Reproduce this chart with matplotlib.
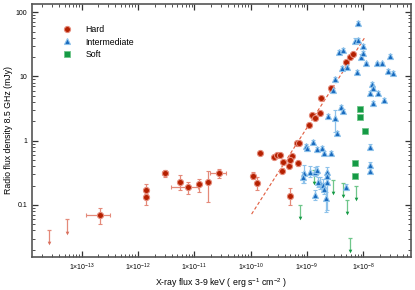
import numpy as np
import matplotlib
matplotlib.use('Agg')
import matplotlib.pyplot as plt
from matplotlib.lines import Line2D
from matplotlib.ticker import LogLocator, FixedLocator, NullFormatter

# Hard state detections
hard_x = [2.13e-13, 1.39e-12, 1.39e-12, 3.02e-12, 5.65e-12, 7.64e-12, 1.20e-11, 1.77e-11, 2.77e-11,
          1.08e-10, 1.28e-10, 1.46e-10, 2.59e-10, 2.93e-10, 3.31e-10, 3.78e-10, 4.83e-10, 5.33e-10,
          4.98e-10, 6.98e-10, 3.63e-10, 4.98e-10, 6.54e-10, 7.10e-10, 1.08e-9, 1.21e-9, 1.38e-9,
          1.69e-9, 1.76e-9, 2.62e-9, 4.90e-9, 5.77e-9, 6.52e-9]
hard_y = [0.070, 0.171, 0.132, 0.311, 0.23, 0.19, 0.21, 0.23, 0.311,
          0.283, 0.217, 0.64, 0.56, 0.60, 0.60, 0.47, 0.41, 0.58,
          0.50, 0.445, 0.338, 0.14, 0.93, 0.93, 1.74, 2.51, 2.23,
          2.73, 4.57, 6.53, 16.9, 19.8, 22.1]
hard_ylo = [0.051, 0.143, 0.10, 0.27, 0.171, 0.148, 0.159, 0.110, 0.26,
            0.25, 0.17, 0.59, 0.52, 0.56, 0.56, 0.44, 0.38, 0.54,
            0.46, 0.41, 0.31, 0.10, 0.87, 0.87, 1.62, 2.35, 2.08,
            2.55, 4.3, 6.1, 15.8, 18.5, 20.7]
hard_yhi = [0.089, 0.21, 0.15, 0.35, 0.29, 0.23, 0.256, 0.342, 0.367,
            0.32, 0.27, 0.69, 0.60, 0.64, 0.64, 0.50, 0.44, 0.62,
            0.54, 0.48, 0.37, 0.185, 0.99, 0.99, 1.86, 2.67, 2.38,
            2.91, 4.85, 6.95, 18.0, 21.1, 23.5]
hard_xlo = [1.2e-13, 1.28e-12, 1.28e-12, 2.7e-12, 5.2e-12, 3.8e-12, 1.1e-11, 1.77e-11, 1.89e-11,
            1.0e-10, 1.2e-10, 1.38e-10, 2.45e-10, 2.8e-10, 3.15e-10, 3.6e-10, 4.6e-10, 5.1e-10,
            4.75e-10, 6.7e-10, 3.45e-10, 4.98e-10, 6.2e-10, 6.8e-10, 1.03e-9, 1.16e-9, 1.32e-9,
            1.62e-9, 1.69e-9, 2.5e-9, 4.7e-9, 5.5e-9, 6.2e-9]
hard_xhi = [3.2e-13, 1.5e-12, 1.5e-12, 3.4e-12, 6.1e-12, 1.18e-11, 1.3e-11, 1.77e-11, 3.7e-11,
            1.16e-10, 1.36e-10, 1.54e-10, 2.73e-10, 3.06e-10, 3.47e-10, 3.96e-10, 5.06e-10, 5.56e-10,
            5.21e-10, 7.26e-10, 3.81e-10, 4.98e-10, 6.88e-10, 7.4e-10, 1.13e-9, 1.26e-9, 1.44e-9,
            1.76e-9, 1.83e-9, 2.74e-9, 5.1e-9, 6.05e-9, 6.85e-9]
hard_lim_x = [2.65e-14, 5.47e-14]
hard_lim_y = [0.041, 0.060]

# Intermediate state
int_x = [7.98e-9, 7.06e-9, 8.09e-9, 9.91e-9, 3.72e-9, 4.38e-9, 8.91e-9, 9.91e-9, 1.11e-8, 1.71e-8,
         2.10e-8, 2.95e-8, 4.16e-9, 5.04e-9, 7.76e-9, 2.75e-8, 3.38e-8, 3.13e-9, 2.92e-9, 1.40e-8,
         1.46e-8, 1.30e-8, 1.83e-8, 2.31e-8, 1.49e-8, 3.99e-9, 4.38e-9, 2.32e-9, 3.13e-9, 3.43e-9,
         1.29e-9, 9.55e-10, 1.01e-9, 1.82e-9, 1.30e-8, 2.69e-9, 1.48e-9, 2.0e-9, 1.30e-8, 1.30e-8,
         4.90e-9, 8.81e-10, 1.13e-9, 1.38e-9, 1.50e-9, 2.25e-9, 2.25e-9, 8.45e-10, 1.69e-9, 1.91e-9,
         2.25e-9, 2.0e-9, 2.16e-9, 1.38e-9, 1.56e-9]
int_y = [67.0, 35.9, 36.8, 29.7, 23.7, 25.7, 20.2, 22.9, 16.0, 16.0,
         16.0, 20.8, 13.4, 14.2, 11.8, 12.3, 11.2, 9.0, 6.1, 7.6,
         6.5, 5.6, 5.6, 4.3, 3.8, 3.31, 2.93, 2.45, 2.23, 1.33,
         0.965, 0.83, 0.77, 0.76, 0.81, 0.65, 0.73, 0.64, 0.42, 0.34,
         0.19, 0.31, 0.33, 0.33, 0.35, 0.33, 0.28, 0.27, 0.22, 0.205,
         0.23, 0.18, 0.13, 0.143, 0.23]
int_ylo = [62, 33, 34, 27.5, 22, 24, 18.5, 21, 15, 15,
           15, 19.5, 12.5, 13.2, 11, 11.5, 10.5, 8.3, 5.6, 7.0,
           6.0, 5.2, 5.2, 4.0, 3.5, 3.05, 2.7, 2.25, 1.38, 1.22,
           0.89, 0.76, 0.70, 0.70, 0.74, 0.60, 0.67, 0.59, 0.38, 0.31,
           0.17, 0.22, 0.27, 0.28, 0.30, 0.28, 0.23, 0.22, 0.18, 0.17,
           0.084, 0.15, 0.078, 0.12, 0.19]
int_yhi = [72, 39, 40, 32, 25.5, 27.5, 22, 25, 17, 17,
           17, 22, 14.5, 15.2, 12.6, 13.1, 12, 9.7, 6.6, 8.2,
           7.0, 6.0, 6.0, 4.6, 4.1, 3.55, 3.15, 2.65, 2.99, 1.44,
           1.04, 0.90, 0.84, 0.82, 0.88, 0.70, 0.79, 0.69, 0.46, 0.37,
           0.21, 0.42, 0.40, 0.39, 0.41, 0.39, 0.33, 0.33, 0.27, 0.25,
           0.28, 0.22, 0.16, 0.17, 0.27]

# Soft state
soft_x = [8.67e-9, 8.67e-9, 1.05e-8, 7.06e-9, 7.06e-9]
soft_y = [3.15, 2.31, 1.42, 0.455, 0.28]
soft_lim_x = [7.48e-10, 1.33e-9, 2.92e-9, 4.28e-9, 5.16e-9, 7.36e-9, 5.77e-9]
soft_lim_y = [0.10, 0.35, 0.245, 0.22, 0.12, 0.197, 0.031]

# correlation line drawn through the hard state points
line_x = [1.04e-10, 1.06e-8]
line_y = [0.072, 40.5]

xticks = [1e-13, 1e-12, 1e-11, 1e-10, 1e-9, 1e-8]
xticklabels = [r'1$\times$10$^{-13}$', r'1$\times$10$^{-12}$', r'1$\times$10$^{-11}$',
               r'1$\times$10$^{-10}$', r'1$\times$10$^{-9}$', r'1$\times$10$^{-8}$']
yticks = [0.1, 1, 10, 100]
yticklabels = ['0.1', '1', '10', '100']

RED, RED_L = '#b52000', '#e48a7a'
BLUE, BLUE_L = '#1668bd', '#8ec2ea'
GREEN, GREEN_L = '#159a45', '#6fc68a'


def asym(v, lo, hi):
    v, lo, hi = np.array(v), np.array(lo), np.array(hi)
    return np.vstack([v - lo, hi - v])


def upper_limits(ax, x, y, bar_color, head_color):
    # bar from the limit down, with a cap on top and an arrow head at the bottom
    x, y = np.array(x), np.array(y)
    ax.vlines(x, y * 0.62, y, color=bar_color, lw=0.9, zorder=2)
    ax.plot(x, y, '_', color=bar_color, ms=3, mew=0.9, zorder=2)
    ax.plot(x, y * 0.62, 'v', color=head_color, ms=2.6, mew=0, zorder=3)


def main():
    plt.rcParams['font.family'] = ['Liberation Sans', 'DejaVu Sans']
    plt.rcParams['mathtext.fontset'] = 'custom'
    plt.rcParams['mathtext.rm'] = 'Liberation Sans'
    plt.rcParams['mathtext.it'] = 'Liberation Sans'

    fig = plt.figure(figsize=(4.15, 2.9), dpi=100)
    ax = fig.add_axes([0.077, 0.114, 0.913, 0.872])
    ax.set_xscale('log')
    ax.set_yscale('log')

    ax.plot(line_x, line_y, ls=(0, (3, 2)), color='#e05a3c', lw=0.8, zorder=1)

    upper_limits(ax, hard_lim_x, hard_lim_y, RED_L, '#d9705e')
    upper_limits(ax, soft_lim_x, soft_lim_y, GREEN_L, GREEN)

    ax.errorbar(hard_x, hard_y, yerr=asym(hard_y, hard_ylo, hard_yhi),
                xerr=asym(hard_x, hard_xlo, hard_xhi), fmt='o', ms=4.4,
                color=RED, mec=RED_L, mew=0.8, ecolor=RED_L, elinewidth=0.9,
                capsize=1.5, zorder=4)
    ax.errorbar(int_x, int_y, yerr=asym(int_y, int_ylo, int_yhi), fmt='^', ms=4.4,
                color=BLUE, mec=BLUE_L, mew=0.8, ecolor=BLUE_L, elinewidth=0.9,
                capsize=1.5, zorder=4)
    ax.plot(soft_x, soft_y, 's', ms=4, color=GREEN, mec=GREEN_L, mew=0.6, zorder=4)

    ax.set_xlim(1.32e-14, 6.95e-8)
    ax.set_ylim(0.0155, 134)

    ax.xaxis.set_major_locator(FixedLocator(xticks))
    ax.set_xticklabels(xticklabels)
    ax.xaxis.set_minor_locator(LogLocator(base=10, subs=np.arange(2, 10), numticks=30))
    ax.xaxis.set_minor_formatter(NullFormatter())
    ax.yaxis.set_major_locator(FixedLocator(yticks))
    ax.set_yticklabels(yticklabels)
    ax.yaxis.set_minor_locator(LogLocator(base=10, subs=np.arange(2, 10), numticks=30))
    ax.yaxis.set_minor_formatter(NullFormatter())

    ax.tick_params(which='both', direction='in', top=True, right=True,
                   colors='#333333', labelcolor='black', labelsize=5)
    ax.tick_params(which='major', length=4, width=0.9)
    ax.tick_params(which='minor', length=2, width=0.6)
    for s in ax.spines.values():
        s.set_color('#555555')
        s.set_linewidth(1.2)

    ax.set_xlabel(r'X-ray flux 3-9 keV ( erg s$^{-1}$ cm$^{-2}$ )', fontsize=6.3, labelpad=2)
    ax.set_ylabel('Radio flux density 8.5 GHz (mJy)', fontsize=6.3, labelpad=1.5)

    handles = [Line2D([], [], ls='none', marker='o', ms=4.4, color=RED, mec=RED_L, mew=0.8),
               Line2D([], [], ls='none', marker='^', ms=4.4, color=BLUE, mec=BLUE_L, mew=0.8),
               Line2D([], [], ls='none', marker='s', ms=4, color=GREEN, mec=GREEN_L, mew=0.6)]
    ax.legend(handles, ['Hard', 'Intermediate', 'Soft'],
              loc='upper left', bbox_to_anchor=(0.06, 0.95), frameon=False,
              fontsize=6.3, handletextpad=1.6, labelspacing=0.45, handlelength=1.0)

    fig.savefig('out.png', dpi=100)


if __name__ == '__main__':
    main()
